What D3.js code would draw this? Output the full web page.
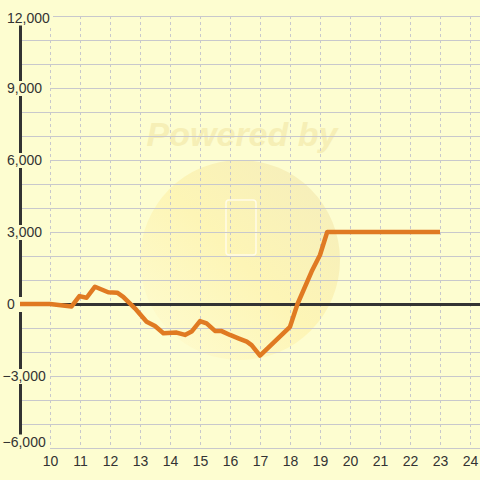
<!DOCTYPE html>
<html><head><meta charset="utf-8">
<script src="https://cdn.jsdelivr.net/npm/d3@7"></script>
<style>html,body{margin:0;padding:0;background:#fdfdd0;}svg{display:block;}</style>
</head><body>
<svg id="c" width="480" height="480"></svg>
<script>
const xValues = [9, 10, 10.72, 10.98, 11.22, 11.5, 11.94, 12.24, 12.44, 12.83, 13.22, 13.5, 13.78, 14.22, 14.5, 14.72, 15.0, 15.22, 15.5, 15.72, 16.0, 16.28, 16.56, 16.72, 17.0, 18.0, 18.25, 18.72, 19.0, 19.24, 23];
const yValues = [0, 0, -100, 330, 260, 720, 490, 470, 300, -180, -740, -920, -1220, -1190, -1290, -1150, -710, -810, -1120, -1130, -1290, -1430, -1570, -1710, -2150, -950, 0, 1350, 2040, 3000, 3000];
const xTicks = [10, 11, 12, 13, 14, 15, 16, 17, 18, 19, 20, 21, 22, 23, 24];
const yGrid = [-6000, -5000, -4000, -3000, -2000, -1000, 0, 1000, 2000, 3000, 4000, 5000, 6000, 7000, 8000, 9000, 10000, 11000, 12000];
const yLabels = [12000, 9000, 6000, 3000, 0, -3000, -6000];

const svg = d3.select("#c");
const W = 480, H = 480;
const x = d3.scaleLinear().domain([9, 24.3333]).range([20, 480]);
const y = d3.scaleLinear().domain([-6000, 12000]).range([448, 16]);
const font = "'Liberation Sans', Arial, sans-serif";
const bg = "#fdfdd0";

svg.append("rect").attr("width", W).attr("height", H).attr("fill", bg);

// watermark
const defs = svg.append("defs");
const g1 = defs.append("linearGradient").attr("id", "wm").attr("x1", "0").attr("y1", "1").attr("x2", "1").attr("y2", "0");
g1.append("stop").attr("offset", "0").attr("stop-color", "#fefcd2");
g1.append("stop").attr("offset", "0.5").attr("stop-color", "#fdf5b6");
g1.append("stop").attr("offset", "1").attr("stop-color", "#f4edbc");
svg.append("circle").attr("cx", 240).attr("cy", 260).attr("r", 100).attr("fill", "url(#wm)");
svg.append("text").attr("x", 242).attr("y", 146).attr("text-anchor", "middle")
  .attr("font-family", font).attr("font-size", 34).attr("font-weight", "bold").attr("font-style", "italic")
  .attr("fill", "#f6efb6").text("Powered by");
svg.append("rect").attr("x", 226).attr("y", 200).attr("width", 30).attr("height", 55).attr("rx", 3)
  .attr("fill", "none").attr("stroke", "#fffce8").attr("stroke-width", 1.5);

// horizontal gridlines
svg.append("g").selectAll("line").data(yGrid).join("line")
  .attr("x1", 20).attr("x2", 480).attr("y1", d => y(d)).attr("y2", d => y(d))
  .attr("stroke", "#c8c8cc").attr("stroke-width", 1).attr("shape-rendering", "crispEdges");

// vertical dashed gridlines
svg.append("g").selectAll("line").data(xTicks).join("line")
  .attr("x1", d => Math.round(x(d)) + 0.5).attr("x2", d => Math.round(x(d)) + 0.5)
  .attr("y1", y(12000)).attr("y2", y(-6000))
  .attr("stroke", "#c8c8cc").attr("stroke-width", 1).attr("stroke-dasharray", "3,3");

// y axis line
svg.append("line").attr("x1", 20.5).attr("x2", 20.5).attr("y1", y(12000)).attr("y2", y(-6000))
  .attr("stroke", "#333").attr("stroke-width", 3);
// zero line
svg.append("line").attr("x1", 20).attr("x2", 480).attr("y1", y(0) + 0.5).attr("y2", y(0) + 0.5)
  .attr("stroke", "#333").attr("stroke-width", 3);

// y labels with background
const fmt = d3.format(",");
const lab = svg.append("g").selectAll("g").data(yLabels).join("g")
  .attr("transform", d => {
    let cy = y(d);
    if (d === 12000) cy = 17.5;
    if (d === -6000) cy = 441.5;
    return `translate(0,${cy})`;
  });
lab.append("rect").attr("x", 0).attr("width", d => d === 12000 ? 53 : 50).attr("y", -7).attr("height", 15).attr("fill", bg);
lab.append("text").attr("x", d => d < 0 ? 2.5 : 7).attr("dy", "0.36em")
  .attr("font-family", font).attr("font-size", 14).attr("fill", "#333").text(d => fmt(d));

// data line
const line = d3.line().x((d, i) => x(xValues[i])).y((d, i) => y(yValues[i]));
svg.append("path").datum(yValues).attr("d", line).attr("fill", "none")
  .attr("stroke", "#e07a22").attr("stroke-width", 4.5).attr("stroke-linejoin", "round");

// x labels
svg.append("g").selectAll("text").data(xTicks).join("text")
  .attr("x", d => x(d) + 0.5).attr("y", 461).attr("dy", "0.36em").attr("text-anchor", "middle")
  .attr("font-family", font).attr("font-size", 14).attr("fill", "#333").text(d => d);
</script>
</body></html>
